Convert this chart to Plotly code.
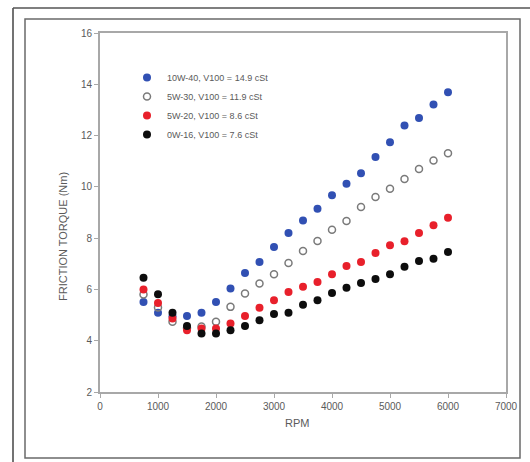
import plotly.graph_objects as go

rpm = [750, 1000, 1250, 1500, 1750, 2000, 2250, 2500, 2750, 3000, 3250,
       3500, 3750, 4000, 4250, 4500, 4750, 5000, 5250, 5500, 5750, 6000]

torque_10w40 = [5.51, 5.09, 4.95, 4.96, 5.09, 5.51, 6.04, 6.64, 7.07, 7.65, 8.20,
                8.69, 9.15, 9.67, 10.12, 10.53, 11.16, 11.74, 12.39, 12.69, 13.21, 13.69]
torque_5w30 = [5.80, 5.30, 4.74, 4.50, 4.55, 4.74, 5.32, 5.84, 6.23, 6.59, 7.03,
               7.50, 7.89, 8.33, 8.67, 9.21, 9.60, 9.93, 10.31, 10.70, 11.03, 11.31]
torque_5w20 = [6.00, 5.47, 4.87, 4.41, 4.48, 4.48, 4.67, 4.96, 5.29, 5.58, 5.90,
               6.10, 6.29, 6.59, 6.91, 7.07, 7.42, 7.72, 7.88, 8.20, 8.50, 8.80]
torque_0w16 = [6.46, 5.81, 5.09, 4.57, 4.28, 4.28, 4.41, 4.57, 4.80, 5.04, 5.09,
               5.40, 5.58, 5.86, 6.07, 6.25, 6.41, 6.59, 6.88, 7.11, 7.20, 7.46]

series_names = ["10W-40, V100 = 14.9 cSt", "5W-30, V100 = 11.9 cSt",
                "5W-20, V100 = 8.6 cSt", "0W-16, V100 = 7.6 cSt"]
x_ticks = [0, 1000, 2000, 3000, 4000, 5000, 6000, 7000]
y_ticks = [2, 4, 6, 8, 10, 12, 14, 16]

W, H = 530, 462
L, R, T, B = 100, 24, 33, 70
pw, ph = W - L - R, H - T - B

TXT = "#5a5a5a"
AX = "#a8a8a8"

fig = go.Figure()
marker_styles = [
    dict(symbol="circle", size=8, color="#3150b3", line=dict(width=0)),
    dict(symbol="circle-open", size=7, color="#7a7a7a", line=dict(width=1.5)),
    dict(symbol="circle", size=8, color="#e8202b", line=dict(width=0)),
    dict(symbol="circle", size=8, color="#0d0d0d", line=dict(width=0)),
]
for name, ys, mk in zip(series_names, [torque_10w40, torque_5w30, torque_5w20, torque_0w16], marker_styles):
    fig.add_trace(go.Scatter(x=rpm, y=ys, mode="markers", name=name, marker=mk))


def px(xp):
    return (xp - L) / pw


def py(yp):
    return (H - B - yp) / ph


shapes = [
    # inner page frame
    dict(type="rect", xref="paper", yref="paper", x0=px(25), x1=px(520), y0=py(458), y1=py(19),
         line=dict(color="#6a6a6a", width=1.5)),
    # outer page edges
    dict(type="line", xref="paper", yref="paper", x0=px(13), x1=px(13), y0=py(8), y1=py(470),
         line=dict(color="#444", width=1.5)),
    dict(type="line", xref="paper", yref="paper", x0=px(13), x1=px(540), y0=py(8), y1=py(8),
         line=dict(color="#555", width=1.5)),
]

fig.update_layout(
    width=W, height=H,
    margin=dict(l=L, r=R, t=T, b=B, pad=0),
    paper_bgcolor="white", plot_bgcolor="white",
    font=dict(family="Liberation Sans, Arial, sans-serif", size=10, color=TXT),
    shapes=shapes,
    showlegend=True,
    legend=dict(x=px(127), y=py(63), xanchor="left", yanchor="top",
                bgcolor="rgba(0,0,0,0)", font=dict(size=9, color=TXT),
                itemwidth=30, tracegroupgap=0),
    annotations=[
        dict(text="FRICTION TORQUE (Nm)", xref="paper", yref="paper", x=px(55), y=py(237),
             textangle=-90, showarrow=False, font=dict(size=11, color=TXT)),
        dict(text="RPM", xref="paper", yref="paper", x=px(297), y=py(431),
             showarrow=False, font=dict(size=11, color=TXT)),
    ],
)
fig.update_xaxes(range=[0, 7000], tickvals=x_ticks, ticks="outside", ticklen=4, tickcolor=AX,
                 showline=True, linecolor=AX, linewidth=2, mirror=True, showgrid=False,
                 zeroline=False, tickfont=dict(size=10, color=TXT))
fig.update_yaxes(range=[2, 16], tickvals=y_ticks, ticks="outside", ticklen=4, tickcolor=AX,
                 showline=True, linecolor=AX, linewidth=2, mirror=True, showgrid=False,
                 zeroline=False, tickfont=dict(size=10, color=TXT))

fig.write_html("out.html")
